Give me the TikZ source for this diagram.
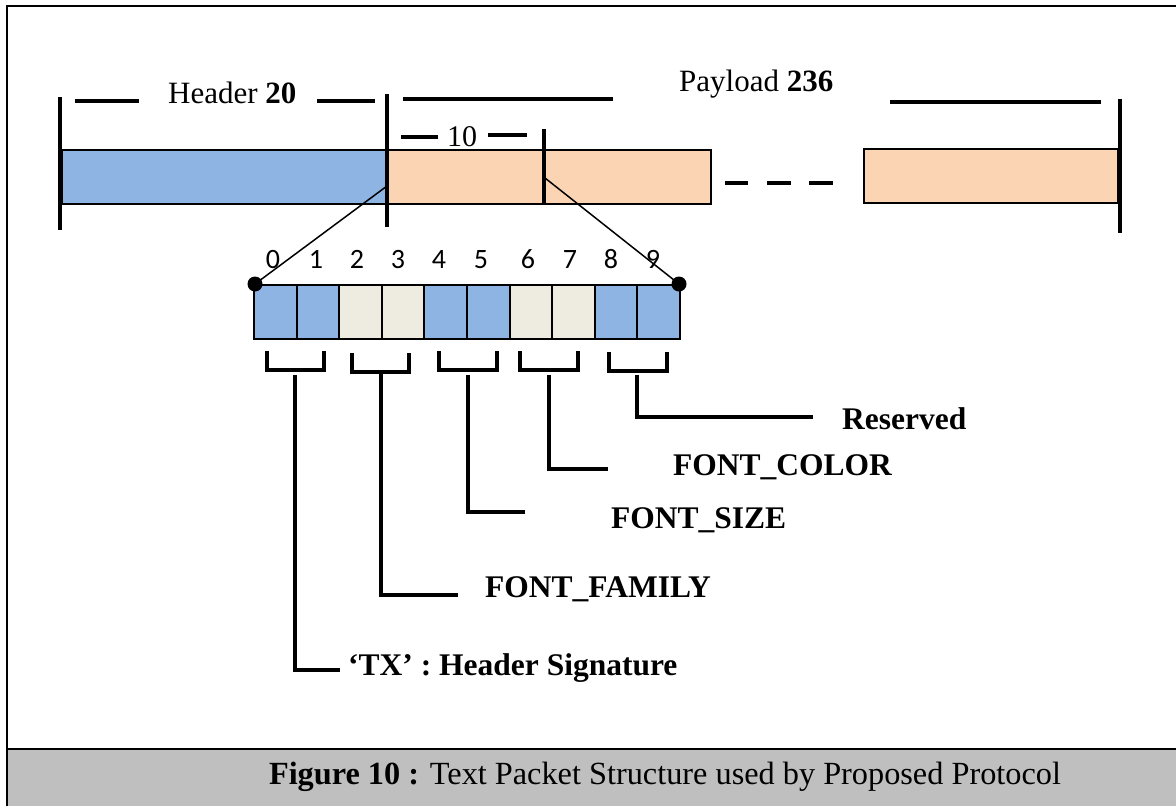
\documentclass[tikz,border=0pt]{standalone}
\usepackage{fontspec}
\setmainfont{Liberation Serif}
\newfontfamily\calfont{Carlito}
\definecolor{hdrblue}{HTML}{8EB4E3}
\definecolor{peach}{HTML}{FBD4B4}
\definecolor{beige}{HTML}{EEECE1}
\definecolor{capgray}{HTML}{BFBFBF}
\begin{document}
\begin{tikzpicture}[x=1pt,y=-1pt,
  bar/.style={line width=4pt},
  dashseg/.style={line width=4.5pt},
  lead/.style={line width=3.2pt},
  diag/.style={line width=1.5pt},
  blockbox/.style={draw, line width=1.5pt, minimum height=54pt, inner sep=0pt, outer sep=0pt, anchor=north west},
  cellbox/.style={draw, line width=2pt, minimum width=42.6pt, minimum height=54pt, inner sep=0pt, outer sep=0pt, anchor=north west},
  digit/.style={font=\calfont\fontsize{28}{32}\selectfont, anchor=base, inner sep=0pt},
  lbl/.style={font=\fontsize{31.5}{36}\selectfont\bfseries, anchor=base west, inner sep=0pt},
  toptext/.style={font=\fontsize{31}{36}\selectfont, anchor=base west, inner sep=0pt},
  dot/.style={circle, fill=black, minimum size=15pt, inner sep=0pt}]
\useasboundingbox (0,0) rectangle (1176,806);
% frame and caption band
\fill[capgray] (7,750) rectangle (1176,806);
\draw[line width=2.5pt] (7,749) -- (1176,749);
\draw[line width=2.5pt] (1176,6) -- (7,6) -- (7,806);
\node[anchor=base, inner sep=0pt, font=\fontsize{32.3}{36}\selectfont] (cap) at (665,784) {\textbf{Figure 10 :} Text Packet Structure used by Proposed Protocol};
% packet blocks
\node[blockbox, fill=hdrblue, minimum width=325pt] (hdr) at (62,150) {};
\node[blockbox, fill=peach, minimum width=324pt] (pay1) at (387,150) {};
\node[blockbox, fill=peach, minimum width=254pt] (pay2) at (864,149) {};
% vertical bars
\draw[bar] (60,97) -- (60,230);
\draw[bar] (387,94) -- (387,227);
\draw[bar] (1120,99) -- (1120,233);
\draw[bar] (544,129) -- (544,204);
% top texts and dashes
\node[toptext] (htxt) at (168,103) {Header \textbf{20}};
\node[toptext] (ptxt) at (679,91) {Payload \textbf{236}};
\node[toptext, font=\fontsize{30}{34}\selectfont] (ten) at (447,146) {10};
\draw[dashseg] (75,101) -- (139,101);
\draw[dashseg] (317,101) -- (375,101);
\draw[dashseg] (403,99) -- (613,99);
\draw[dashseg] (890,102) -- (1101,102);
\draw[dashseg] (401,137) -- (438,137);
\draw[dashseg] (488,135) -- (527,135);
\draw[dashseg] (725,183) -- (748,183);
\draw[dashseg] (767,183) -- (791,183);
\draw[dashseg] (809,183) -- (833,183);
% cells
\foreach \i/\c in {0/hdrblue,1/hdrblue,2/beige,3/beige,4/hdrblue,5/hdrblue,6/beige,7/beige,8/hdrblue,9/hdrblue}{
  \node[cellbox, fill=\c] (c\i) at ({254+42.6*\i},285) {};
}
\foreach \i/\x in {0/273,1/316,2/357,3/398,4/439,5/481,6/528,7/570,8/611,9/653}{
  \node[digit] (d\i) at (\x,268) {\i};
}
% zoom lines and dots
\coordinate (zl) at (387,186);
\coordinate (zr) at (545,178);
\node[dot] (dl) at (255,284) {};
\node[dot] (dr) at (679,284) {};
\draw[diag] (zl) -- (dl.center);
\draw[diag] (zr) -- (dr.center);
% brackets
\draw[lead] (267,351) -- (267,370) -- (324,370) -- (324,351);
\draw[lead] (352,353) -- (352,372) -- (409,372) -- (409,353);
\draw[lead] (439,351) -- (439,370) -- (497,370) -- (497,351);
\draw[lead] (520,351) -- (520,370) -- (578,370) -- (578,351);
\draw[lead] (609,352) -- (609,371) -- (667,371) -- (667,352);
% labels
\node[lbl] (res) at (842,429) {Reserved};
\node[lbl] (fcol) at (673,475) {FONT\_COLOR};
\node[lbl] (fsize) at (611,528) {FONT\_SIZE};
\node[lbl] (ffam) at (485,597) {FONT\_FAMILY};
\node[lbl] (tx) at (348,675) {‘TX’ : Header Signature};
% leaders
\coordinate (b1) at (295,375); \coordinate (e1) at (340,670);
\coordinate (b2) at (381,373); \coordinate (e2) at (458,595);
\coordinate (b3) at (468,375); \coordinate (e3) at (525,512);
\coordinate (b4) at (549,375); \coordinate (e4) at (608,469);
\coordinate (b5) at (637,375); \coordinate (e5) at (813,417);
\draw[lead] (b1) |- (e1);
\draw[lead] (b2) |- (e2);
\draw[lead] (b3) |- (e3);
\draw[lead] (b4) |- (e4);
\draw[lead] (b5) |- (e5);
\end{tikzpicture}
\end{document}
